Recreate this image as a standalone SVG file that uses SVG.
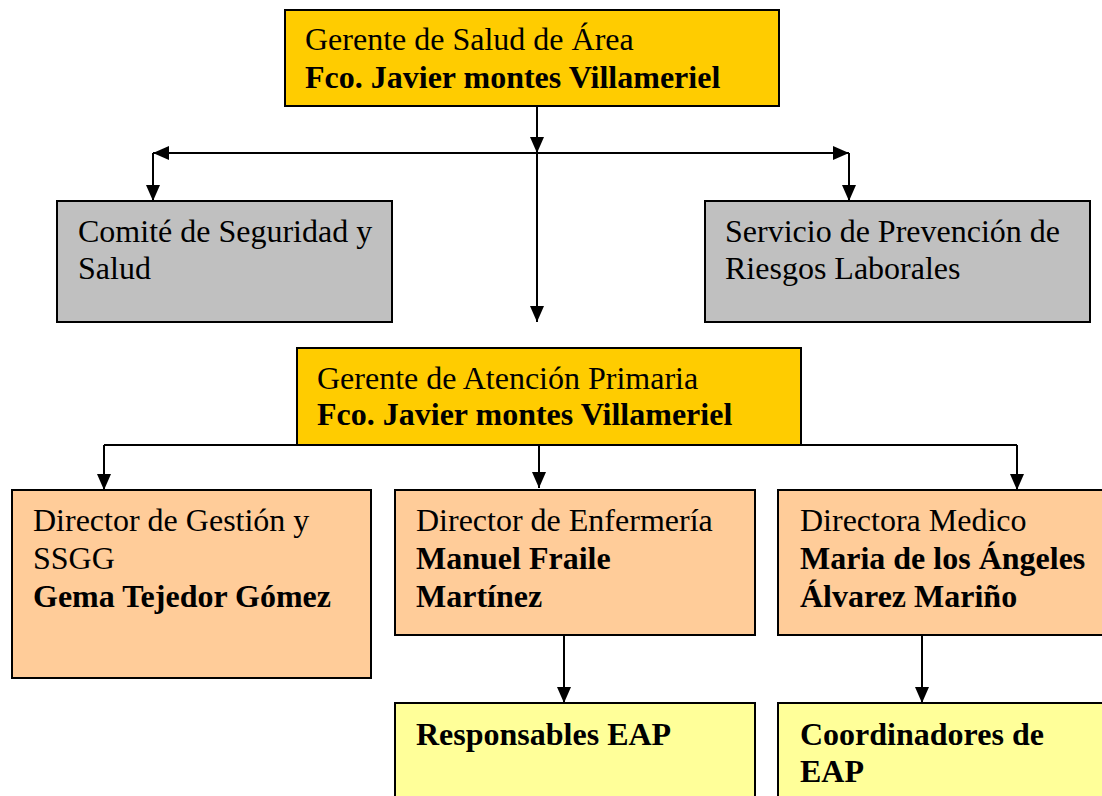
<svg xmlns="http://www.w3.org/2000/svg" width="1102" height="796" viewBox="0 0 1102 796">
<defs>
<style>
.box{stroke:#000;stroke-width:2}
.gold{fill:#FFCC00}
.gray{fill:#C0C0C0}
.peach{fill:#FFCC99}
.lyel{fill:#FFFF99}
text{font-family:"Liberation Serif","Times New Roman",serif;font-size:32px;fill:#000}
.b{font-weight:bold}
.conn path{fill:none;stroke:#000;stroke-width:2}
</style>
<marker id="ah" markerUnits="userSpaceOnUse" markerWidth="16" markerHeight="16" viewBox="0 0 16 16" refX="16" refY="8" orient="auto">
<path d="M0,1 L16,8 L0,15 Z" fill="#000"/>
</marker>
</defs>
<rect width="1102" height="796" fill="#fff"/>

<g id="gerente-salud">
<rect class="box gold" x="285" y="10" width="494" height="96"/>
<text x="305" y="50">Gerente de Salud de Área</text>
<text class="b" x="305" y="88">Fco. Javier montes Villameriel</text>
</g>

<g id="comite">
<rect class="box gray" x="57" y="201" width="335" height="121"/>
<text x="78" y="242">Comité de Seguridad y</text>
<text x="78" y="279">Salud</text>
</g>

<g id="servicio">
<rect class="box gray" x="705" y="201" width="385" height="121"/>
<text x="725" y="242">Servicio de Prevención de</text>
<text x="725" y="279">Riesgos Laborales</text>
</g>

<g id="gerente-ap">
<rect class="box gold" x="297" y="348" width="504" height="97"/>
<text x="317" y="389">Gerente de Atención Primaria</text>
<text class="b" x="317" y="425">Fco. Javier montes Villameriel</text>
</g>

<g id="dir-gestion">
<rect class="box peach" x="12" y="490" width="359" height="188"/>
<text x="33" y="531">Director de Gestión y</text>
<text x="33" y="569">SSGG</text>
<text class="b" x="33" y="607">Gema Tejedor Gómez</text>
</g>

<g id="dir-enfermeria">
<rect class="box peach" x="395" y="490" width="360" height="145"/>
<text x="416" y="531">Director de Enfermería</text>
<text class="b" x="416" y="569">Manuel Fraile</text>
<text class="b" x="416" y="607">Martínez</text>
</g>

<g id="dir-medico">
<rect class="box peach" x="778" y="490" width="340" height="145"/>
<text x="800" y="531">Directora Medico</text>
<text class="b" x="800" y="569">Maria de los Ángeles</text>
<text class="b" x="800" y="607">Álvarez Mariño</text>
</g>

<g id="responsables">
<rect class="box lyel" x="395" y="703" width="360" height="110"/>
<text class="b" x="416" y="745">Responsables EAP</text>
</g>

<g id="coordinadores">
<rect class="box lyel" x="778" y="703" width="340" height="110"/>
<text class="b" x="800" y="745">Coordinadores de</text>
<text class="b" x="800" y="782">EAP</text>
</g>

<g id="connectors" class="conn">
<path d="M537,106 V153" marker-end="url(#ah)"/>
<path d="M537,153 V322" marker-end="url(#ah)"/>
<path d="M537,153 H153" marker-end="url(#ah)"/>
<path d="M537,153 H849" marker-end="url(#ah)"/>
<path d="M153,153 V201" marker-end="url(#ah)"/>
<path d="M849,153 V201" marker-end="url(#ah)"/>
<path d="M104,445 H1017"/>
<path d="M104,445 V490" marker-end="url(#ah)"/>
<path d="M539,445 V488" marker-end="url(#ah)"/>
<path d="M1017,445 V490" marker-end="url(#ah)"/>
<path d="M564,635 V703" marker-end="url(#ah)"/>
<path d="M922,635 V703" marker-end="url(#ah)"/>
</g>
</svg>
